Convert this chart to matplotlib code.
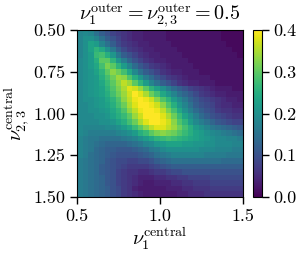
"""
Heatmap of the central exponents for fixed outer exponents.
"""

import numpy as np
import matplotlib.pyplot as plt

# axis ranges and ticks
x_range = [0.5, 1.5]
y_range = [0.5, 1.5]
x_ticks = [0.5, 1.0, 1.5]
y_ticks = [0.5, 0.75, 1.0, 1.25, 1.5]
cbar_ticks = [0.0, 0.1, 0.2, 0.3, 0.4]

# cell values (x100), rows from nu_23 = 0.5 (top) down to 1.5, columns nu_1 = 0.5 .. 1.5
density_rows = [
    [18, 19, 18, 15, 12, 10, 8, 7, 6, 5, 4, 4, 3, 3, 3, 3, 2, 2, 2, 2, 2, 2, 2, 2, 2, 2, 1, 1, 1, 1],
    [18, 20, 20, 18, 15, 12, 10, 8, 6, 5, 4, 4, 3, 3, 3, 3, 2, 2, 2, 2, 2, 2, 2, 2, 2, 2, 1, 1, 1, 1],
    [18, 20, 23, 22, 18, 15, 12, 9, 7, 6, 5, 4, 4, 3, 3, 3, 3, 2, 2, 2, 2, 2, 2, 2, 2, 2, 2, 1, 1, 1],
    [18, 20, 23, 26, 24, 20, 16, 12, 9, 7, 6, 5, 4, 4, 3, 3, 3, 3, 2, 2, 2, 2, 2, 2, 2, 2, 2, 2, 1, 1],
    [18, 20, 22, 27, 28, 25, 21, 16, 12, 10, 8, 6, 5, 4, 4, 3, 3, 3, 3, 2, 2, 2, 2, 2, 2, 2, 2, 2, 2, 1],
    [19, 20, 22, 25, 30, 30, 26, 21, 17, 13, 10, 8, 6, 5, 4, 4, 3, 3, 3, 3, 2, 2, 2, 2, 2, 2, 2, 2, 2, 2],
    [19, 20, 22, 24, 28, 32, 30, 26, 22, 18, 14, 11, 9, 7, 6, 5, 4, 3, 3, 3, 3, 2, 2, 2, 2, 2, 2, 2, 2, 2],
    [19, 20, 21, 23, 26, 30, 33, 31, 28, 24, 19, 15, 12, 10, 8, 6, 5, 4, 4, 3, 3, 3, 2, 2, 2, 2, 2, 2, 2, 2],
    [19, 20, 21, 22, 25, 28, 31, 34, 33, 29, 25, 21, 17, 14, 11, 9, 7, 6, 5, 4, 3, 3, 3, 3, 2, 2, 2, 2, 2, 2],
    [19, 20, 21, 22, 24, 27, 30, 33, 36, 34, 30, 26, 22, 18, 15, 12, 10, 8, 6, 5, 4, 4, 3, 3, 3, 2, 2, 2, 2, 2],
    [19, 20, 21, 22, 23, 26, 29, 32, 35, 38, 37, 34, 30, 26, 23, 20, 17, 14, 12, 10, 8, 7, 6, 5, 4, 3, 3, 3, 2, 2],
    [19, 20, 21, 22, 23, 25, 28, 31, 34, 37, 40, 38, 35, 31, 28, 24, 21, 18, 15, 13, 11, 9, 7, 6, 5, 4, 4, 3, 3, 3],
    [19, 20, 20, 21, 22, 24, 26, 29, 33, 36, 39, 40, 39, 37, 33, 29, 26, 22, 19, 16, 13, 11, 9, 8, 7, 6, 5, 4, 4, 3],
    [19, 19, 20, 21, 22, 23, 25, 28, 31, 35, 38, 40, 40, 39, 37, 33, 29, 25, 21, 18, 15, 12, 10, 9, 8, 6, 5, 5, 4, 4],
    [19, 19, 20, 20, 21, 22, 24, 26, 29, 33, 36, 39, 40, 40, 39, 36, 32, 28, 24, 20, 17, 14, 12, 10, 9, 7, 6, 6, 5, 5],
    [19, 19, 19, 20, 20, 21, 23, 25, 27, 30, 34, 37, 40, 40, 40, 38, 35, 31, 27, 23, 20, 17, 14, 12, 10, 9, 8, 7, 6, 6],
    [19, 19, 19, 19, 20, 20, 21, 23, 25, 28, 31, 35, 38, 40, 40, 39, 37, 33, 29, 26, 22, 19, 17, 15, 13, 11, 10, 9, 8, 8],
    [19, 18, 18, 18, 18, 19, 19, 20, 22, 24, 27, 30, 33, 36, 38, 38, 36, 34, 31, 28, 25, 22, 20, 18, 16, 15, 14, 13, 12, 11],
    [19, 18, 17, 17, 17, 17, 17, 18, 19, 20, 22, 25, 27, 30, 32, 33, 32, 31, 29, 27, 25, 23, 22, 20, 19, 18, 17, 16, 15, 14],
    [18, 17, 16, 16, 15, 15, 15, 15, 16, 17, 18, 20, 22, 24, 26, 27, 28, 27, 26, 25, 24, 23, 22, 21, 20, 19, 19, 18, 18, 17],
    [18, 17, 16, 15, 14, 13, 13, 13, 13, 14, 15, 16, 18, 19, 21, 22, 23, 23, 23, 22, 22, 21, 21, 20, 20, 19, 19, 19, 18, 18],
    [18, 17, 16, 14, 13, 12, 12, 11, 11, 11, 12, 13, 14, 16, 17, 19, 20, 20, 20, 20, 20, 20, 19, 19, 19, 18, 18, 18, 17, 17],
    [18, 17, 15, 14, 13, 12, 11, 10, 10, 10, 10, 11, 12, 13, 15, 16, 17, 18, 18, 18, 18, 18, 18, 17, 17, 17, 17, 16, 16, 16],
    [17, 16, 15, 14, 13, 11, 10, 9, 9, 8, 8, 9, 9, 10, 12, 13, 14, 15, 15, 15, 15, 15, 15, 15, 15, 15, 14, 14, 14, 14],
    [17, 16, 15, 14, 12, 11, 10, 9, 8, 7, 7, 7, 7, 8, 9, 10, 11, 12, 12, 12, 12, 12, 12, 12, 12, 12, 12, 12, 12, 12],
    [17, 16, 15, 14, 12, 11, 10, 8, 7, 6, 6, 5, 5, 6, 7, 7, 8, 9, 9, 10, 10, 10, 10, 10, 10, 10, 10, 10, 10, 10],
    [17, 16, 15, 14, 13, 11, 10, 8, 7, 6, 5, 4, 4, 4, 5, 5, 6, 6, 7, 7, 8, 8, 8, 8, 9, 9, 9, 9, 9, 9],
    [17, 16, 15, 14, 13, 11, 10, 8, 7, 6, 5, 4, 3, 3, 4, 4, 4, 5, 5, 6, 6, 7, 7, 7, 8, 8, 8, 8, 8, 8],
    [17, 16, 15, 14, 13, 12, 10, 9, 7, 6, 4, 3, 3, 3, 3, 3, 4, 4, 4, 5, 5, 6, 6, 6, 7, 7, 7, 7, 7, 7],
    [17, 16, 15, 14, 13, 12, 10, 9, 7, 6, 5, 4, 3, 3, 3, 3, 3, 3, 4, 4, 5, 5, 5, 6, 6, 6, 6, 6, 6, 6],
]

plt.rcParams['font.family'] = 'serif'
plt.rcParams['font.serif'] = ['cmr10']
plt.rcParams['mathtext.fontset'] = 'cm'
plt.rcParams['axes.formatter.use_mathtext'] = True
plt.rcParams['font.size'] = 13


def main():
    values = np.array(density_rows) / 100.0

    fig = plt.figure(figsize=(3.01, 2.56), dpi=100)
    ax = fig.add_axes([0.256, 0.2305, 0.551, 0.652])
    cax = fig.add_axes([0.842, 0.2305, 0.028, 0.652])

    im = ax.imshow(
        values,
        cmap='viridis',
        vmin=0.0,
        vmax=0.4,
        extent=[x_range[0], x_range[1], y_range[1], y_range[0]],
        aspect='auto',
        interpolation='nearest'
    )

    ax.set_xticks(x_ticks)
    ax.set_xticklabels(['%.1f' % v for v in x_ticks])
    ax.set_yticks(y_ticks)
    ax.set_yticklabels(['%.2f' % v for v in y_ticks])
    ax.tick_params(direction='out', length=5, width=1)

    ax.set_title(r'$\nu_1^{\rm outer} = \nu_{2,3}^{\rm outer} = 0.5$', fontsize=14.5, pad=3)
    ax.set_xlabel(r'$\nu_1^{\rm central}$', fontsize=14.5, labelpad=1)
    ax.set_ylabel(r'$\nu_{2,3}^{\rm central}$', fontsize=14.5, labelpad=1)

    cb = fig.colorbar(im, cax=cax, ticks=cbar_ticks)
    cb.ax.set_yticklabels(['%.1f' % v for v in cbar_ticks])
    cb.ax.tick_params(length=5, width=1)

    plt.savefig('out.png', dpi=100)


if __name__ == '__main__':
    main()
